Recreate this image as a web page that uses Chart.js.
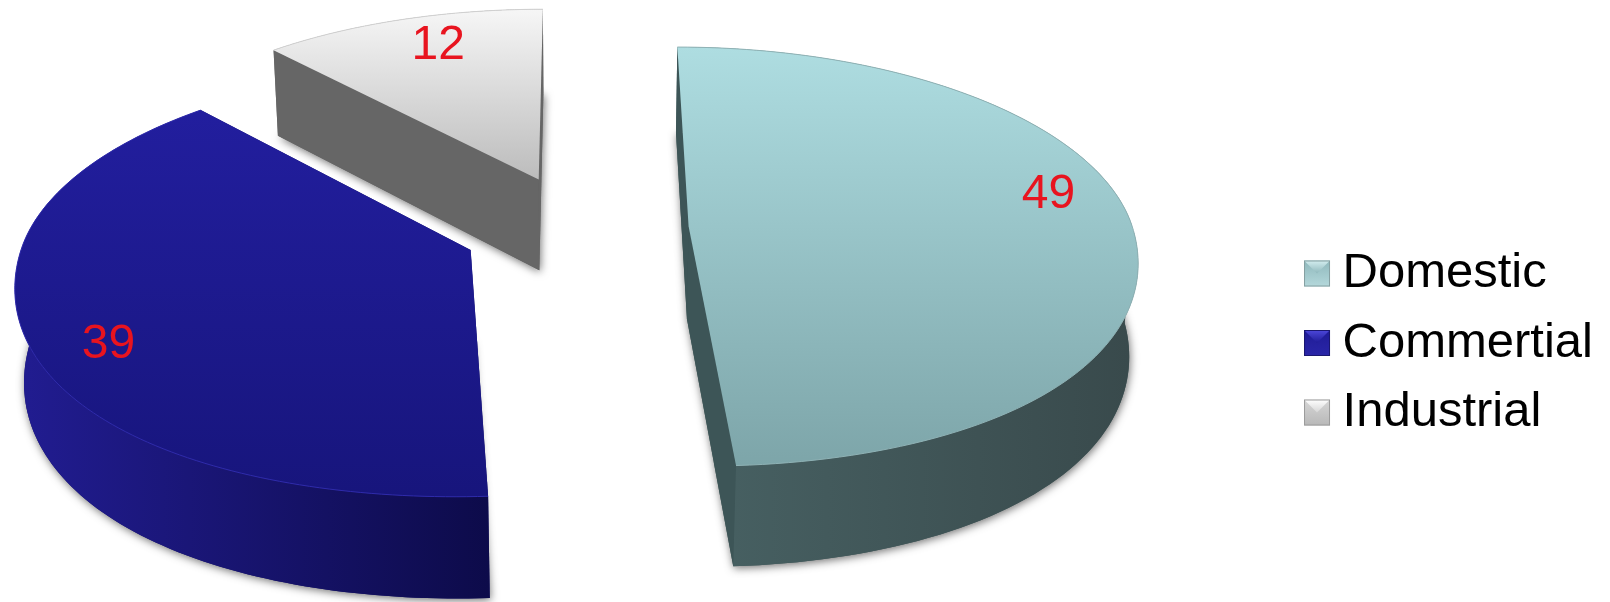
<!DOCTYPE html>
<html>
<head>
<meta charset="utf-8">
<title>Consumption by sector</title>
<script src="https://cdn.jsdelivr.net/npm/chart.js@4"></script>
<style>
    html, body { margin: 0; padding: 0; background: #ffffff; }
    #wrap { position: relative; width: 1610px; height: 602px; }
</style>
</head>
<body>
<div id="wrap"><canvas id="sectorChart"></canvas></div>
<script>
const categories = ["Domestic", "Commertial", "Industrial"];
const shares = [49, 39, 12];

// Top face, wall and cut face colours for each slice
const topLight = ["#aedde1", "#221e9e", "#f6f6f6"];
const topDark = ["#7da5a9", "#17157c", "#bcbcbc"];
const wallLight = ["#486264", "#211c90", "#777777"];
const wallDark = ["#394a4c", "#0d0b4a", "#555555"];
const cutColor = ["#3d5557", "#15126a", "#666666"];
const rimColor = ["#8fb2b5", "#2f2bab", "#d0d0d0"];

// Legend key colours
const keyLight = ["#d4eef0", "#4d48dc", "#ffffff"];
const keyMid = ["#8fb8bc", "#1f1b96", "#d6d6d6"];
const keyDark = ["#b4d8db", "#2a26a8", "#b8b8b8"];
const keyEdge = ["#86a0a2", "#1b1870", "#9c9c9c"];

// Where the value sits inside its slice: radius fraction, degrees off the mid angle
const labelRadius = [0.85, 0.858, 0.804];
const labelShift = [-9.8, -5.2, 2.6];

// How far each slice is pulled out, as a fraction of the radius
const explode = [0.245, 0.265, 0.26];

// Camera for the tilted pie, in canvas pixels
const view = { x0: 580, y0: 228, a: 444, b: 206.7, k: 0.1196, depth: 94, sink: 0.016 };

function project(u, v, z) {
    const w = 1 - view.k * v + view.sink * z;
    return {
        x: view.x0 + view.a * u / w,
        y: view.y0 + (view.b * v + view.depth * z) / w
    };
}

// The rim is not a perfect circle: flatter at the back, fuller at the front
function rimRadius(t) {
    const s = Math.sin(t);
    const d = Math.sin(2 * t);
    return s < 0 ? 1 - 0.03 * s * s : 1 + 0.016 * d * d + 0.02 * s * s;
}

// Ring points of an arc element, in units of its radius around the pie centre
function arcRing(arc, index, z) {
    const { startAngle, endAngle } = arc;
    const mid = (startAngle + endAngle) / 2;
    const cu = Math.cos(mid) * explode[index];
    const cv = Math.sin(mid) * explode[index];
    const steps = 120;
    const pts = [];
    for (let i = 0; i <= steps; i++) {
        const t = startAngle + (endAngle - startAngle) * i / steps;
        const r = rimRadius(t);
        const p = project(cu + Math.cos(t) * r, cv + Math.sin(t) * r, z);
        p.front = Math.sin(t) >= 0;
        pts.push(p);
    }
    return { ring: pts, apex: project(cu, cv, z) };
}

function tracePath(ctx, pts) {
    ctx.beginPath();
    pts.forEach((p, i) => (i ? ctx.lineTo(p.x, p.y) : ctx.moveTo(p.x, p.y)));
    ctx.closePath();
}

function fillWall(ctx, topRing, bottomRing, front) {
    const upper = topRing.filter(p => p.front === front);
    const lower = bottomRing.filter(p => p.front === front);
    if (upper.length < 2) return;
    tracePath(ctx, upper.concat(lower.reverse()));
    ctx.fill();
}

const tiltedPie = {
    id: "tiltedPie",
    beforeDatasetsDraw(chart) {
        const ctx = chart.ctx;
        const arcs = chart.getDatasetMeta(0).data;

        // back to front: Industrial, Commertial, Domestic
        [2, 1, 0].forEach(i => {
            const arc = arcs[i];
            const top = arcRing(arc, i, 0);
            const bottom = arcRing(arc, i, 1);
            const topPts = [top.apex].concat(top.ring);
            const bottomPts = [bottom.apex].concat(bottom.ring);

            // soft shadow thrown by the base
            ctx.save();
            ctx.shadowColor = "rgba(0,0,0,0.55)";
            ctx.shadowBlur = 9;
            ctx.shadowOffsetX = 1;
            ctx.shadowOffsetY = 2;
            ctx.fillStyle = cutColor[i];
            tracePath(ctx, bottomPts);
            ctx.fill();
            ctx.restore();

            const xs = bottom.ring.map(p => p.x);
            const wall = ctx.createLinearGradient(Math.min(...xs), 0, Math.max(...xs), 0);
            wall.addColorStop(0, wallLight[i]);
            wall.addColorStop(1, wallDark[i]);

            // back wall, then both cut faces, then the front wall
            ctx.fillStyle = wall;
            fillWall(ctx, top.ring, bottom.ring, false);

            ctx.fillStyle = cutColor[i];
            const last = top.ring.length - 1;
            tracePath(ctx, [top.apex, top.ring[0], bottom.ring[0], bottom.apex]);
            ctx.fill();
            tracePath(ctx, [top.apex, top.ring[last], bottom.ring[last], bottom.apex]);
            ctx.fill();

            ctx.fillStyle = wall;
            fillWall(ctx, top.ring, bottom.ring, true);

            // top face
            const ys = topPts.map(p => p.y);
            const face = ctx.createLinearGradient(0, Math.min(...ys), 0, Math.max(...ys));
            face.addColorStop(0, topLight[i]);
            face.addColorStop(1, topDark[i]);
            ctx.fillStyle = face;
            tracePath(ctx, topPts);
            ctx.fill();

            ctx.strokeStyle = rimColor[i];
            ctx.lineWidth = 1;
            ctx.beginPath();
            top.ring.forEach((p, n) => (n ? ctx.lineTo(p.x, p.y) : ctx.moveTo(p.x, p.y)));
            ctx.stroke();
        });

        // value labels
        ctx.fillStyle = "#e8141f";
        ctx.font = "48px 'Liberation Sans', Arial, sans-serif";
        ctx.textAlign = "center";
        ctx.textBaseline = "middle";
        arcs.forEach((arc, i) => {
            const mid = (arc.startAngle + arc.endAngle) / 2;
            const t = mid + labelShift[i] * Math.PI / 180;
            const cu = Math.cos(mid) * explode[i];
            const cv = Math.sin(mid) * explode[i];
            const p = project(cu + Math.cos(t) * labelRadius[i], cv + Math.sin(t) * labelRadius[i], 0);
            ctx.fillText(String(shares[i]), p.x, p.y + 3);
        });
        return false;
    },
    afterDraw(chart) {
        // bevelled legend keys
        const ctx = chart.ctx;
        const size = 26;
        chart.legend.legendHitBoxes.forEach((hit, i) => {
            const x = hit.left;
            const y = hit.top + hit.height / 2 - size / 2;
            const g = ctx.createLinearGradient(0, y, 0, y + size);
            g.addColorStop(0, keyMid[i]);
            g.addColorStop(1, keyDark[i]);
            ctx.fillStyle = g;
            ctx.fillRect(x, y, size, size);
            const v = ctx.createLinearGradient(0, y, 0, y + size * 0.5);
            v.addColorStop(0, keyLight[i]);
            v.addColorStop(1, keyMid[i]);
            ctx.fillStyle = v;
            ctx.beginPath();
            ctx.moveTo(x, y);
            ctx.lineTo(x + size, y);
            ctx.lineTo(x + size / 2, y + size * 0.5);
            ctx.closePath();
            ctx.fill();
            ctx.strokeStyle = keyEdge[i];
            ctx.lineWidth = 1;
            ctx.strokeRect(x + 0.5, y + 0.5, size - 1, size - 1);
        });
    }
};

const sectorChart = new Chart(document.getElementById("sectorChart").getContext("2d"), {
    type: "pie",
    data: {
        labels: categories,
        datasets: [{
            data: shares,
            backgroundColor: topLight
        }]
    },
    options: {
        responsive: true,
        maintainAspectRatio: false,
        animation: false,
        layout: { padding: { top: 84, right: 7 } },
        plugins: {
            tooltip: { enabled: false },
            legend: {
                position: "right",
                labels: {
                    boxWidth: 14,
                    boxHeight: 14,
                    padding: 20.5,
                    color: "#000000",
                    font: { family: "'Liberation Sans', Arial, sans-serif", size: 49, lineHeight: 1.2 },
                    generateLabels: () => categories.map((text, i) => ({
                        text,
                        index: i,
                        fillStyle: "rgba(0,0,0,0)",
                        strokeStyle: "rgba(0,0,0,0)",
                        lineWidth: 0
                    }))
                }
            }
        }
    },
    plugins: [tiltedPie]
});
</script>
</body>
</html>
